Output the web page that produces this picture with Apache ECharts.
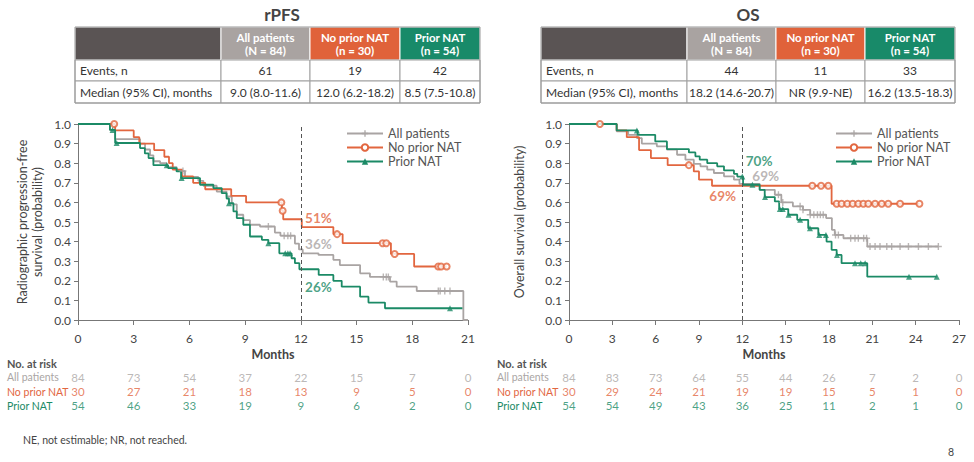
<!DOCTYPE html>
<html>
<head>
<meta charset="utf-8">
<script src="https://cdn.jsdelivr.net/npm/echarts@6/dist/echarts.min.js"></script>
<style>
html, body { margin: 0; padding: 0; background: #fff; }
#main { width: 974px; height: 462px; }
</style>
</head>
<body>
<div id="main"></div>
<script>
// groups
var groups = ['All patients', 'No prior NAT', 'Prior NAT'];
var colors = ['#a9a4a3', '#e2663f', '#1b8a66'];

// rPFS curves: [month, survival after event]
var pfsAll = [[0,1],[1.72,0.97],[2.0,0.923],[3.34,0.9],[3.61,0.87],[3.88,0.84],[4.06,0.81],[4.42,0.8],[4.78,0.78],[5.31,0.76],[5.76,0.73],[6.48,0.71],[6.75,0.685],[7.47,0.655],[8.0,0.63],[8.28,0.59],[8.55,0.537],[8.9,0.51],[9.26,0.486],[9.8,0.477],[10.6,0.446],[10.9,0.43],[11.68,0.39],[11.9,0.36],[12.1,0.34],[12.95,0.332],[13.75,0.307],[14.1,0.28],[15.19,0.238],[15.72,0.22],[16.8,0.196],[17.16,0.17],[18.24,0.148],[20.75,0],[21.0,0]];
var pfsAllCens = [5.65, 10.25, 11.1, 11.3, 11.45, 16.44, 16.6, 16.71, 19.4, 19.5, 19.75, 20.03];
var pfsNo = [[0,1],[2.0,0.967],[3.0,0.933],[3.3,0.9],[4.1,0.867],[4.65,0.833],[4.9,0.8],[5.1,0.767],[5.6,0.733],[6.2,0.7],[6.85,0.667],[8.25,0.633],[9.05,0.6],[10.98,0.557],[11.05,0.514],[12.05,0.474],[13.75,0.438],[14.25,0.392],[16.85,0.337],[18.1,0.273],[19.85,0.273]];
var pfsNoCens = [1.95, 10.95, 11.02, 13.95, 16.4, 16.6, 17.05, 19.4, 19.55, 19.85];
var pfsPrior = [[0,1],[1.72,0.97],[2.0,0.903],[3.34,0.877],[3.6,0.85],[3.8,0.826],[4.06,0.79],[4.85,0.775],[5.31,0.758],[5.55,0.724],[6.57,0.69],[7.29,0.673],[7.74,0.647],[8.0,0.62],[8.13,0.596],[8.37,0.554],[8.55,0.52],[8.9,0.486],[9.26,0.426],[9.9,0.409],[10.25,0.392],[10.84,0.34],[11.5,0.315],[11.68,0.29],[11.92,0.259],[12.96,0.23],[13.75,0.2],[14.2,0.17],[15.19,0.119],[15.64,0.089],[16.53,0.06],[20.7,0.06]];
var pfsPriorCens = [1.86, 2.08, 4.78, 5.58, 8.13, 10.25, 11.16, 11.3, 11.42, 20.03];

// OS curves
var osAll = [[0,1],[3.3,0.963],[4.1,0.945],[4.7,0.928],[5.04,0.9],[6.08,0.886],[6.78,0.869],[7.48,0.843],[8.06,0.818],[8.64,0.797],[9.1,0.784],[9.57,0.767],[10.03,0.75],[10.73,0.733],[11.42,0.716],[11.8,0.695],[13.2,0.664],[14.25,0.639],[14.7,0.6],[15.5,0.58],[16.2,0.562],[16.7,0.537],[17.8,0.52],[18.2,0.46],[18.4,0.434],[19.0,0.417],[20.65,0.375],[25.57,0.375]];
var osAllCens = [14.5, 14.8, 16.0, 16.2, 16.7, 16.95, 17.2, 17.4, 17.6, 18.45, 18.65, 19.5, 19.8, 20.03, 20.4, 20.6, 20.84, 21.19, 21.53, 22.0, 22.34, 22.92, 23.5, 24.19, 24.88, 25.57];
var osNo = [[0,1],[3.3,0.967],[4.0,0.933],[4.85,0.867],[5.67,0.826],[6.83,0.79],[8.64,0.758],[9.0,0.716],[9.9,0.685],[18.18,0.593],[24.26,0.593]];
var osNoCens = [2.14, 8.3, 16.84, 17.45, 17.95, 18.53, 18.87, 19.27, 19.64, 20.03, 20.38, 20.72, 21.19, 21.65, 22.1, 22.92, 24.26];
var osPrior = [[0,1],[3.3,0.967],[4.75,0.945],[5.97,0.911],[6.78,0.872],[8.3,0.855],[8.75,0.835],[9.05,0.818],[9.57,0.8],[10.26,0.784],[10.73,0.763],[11.42,0.746],[11.65,0.732],[12.05,0.69],[13.2,0.664],[13.55,0.627],[14.25,0.605],[14.55,0.566],[15.18,0.537],[15.8,0.511],[16.56,0.468],[17.26,0.434],[17.83,0.4],[18.18,0.358],[18.53,0.332],[18.87,0.29],[20.65,0.221],[25.46,0.221]];
var osPriorCens = [4.7, 12.0, 12.7, 13.57, 14.6, 14.8, 15.2, 16.0, 16.68, 17.33, 17.79, 18.55, 19.8, 20.2, 20.5, 23.54, 25.46];

// 12-month rates
var pfsPct = ['36%', '51%', '26%'];
var osPct = ['69%', '69%', '70%'];

// numbers at risk
var pfsRiskTimes = [0, 3, 6, 9, 12, 15, 18, 21];
var pfsRisk = [[84, 73, 54, 37, 22, 15, 7, 0], [30, 27, 21, 18, 13, 9, 5, 0], [54, 46, 33, 19, 9, 6, 2, 0]];
var osRiskTimes = [0, 3, 6, 9, 12, 15, 18, 21, 24, 27];
var osRisk = [[84, 83, 73, 64, 55, 44, 26, 7, 2, 0], [30, 29, 24, 21, 19, 19, 15, 5, 1, 0], [54, 54, 49, 43, 36, 25, 11, 2, 1, 0]];

// summary tables
var tableHeader = [['All patients', '(N = 84)'], ['No prior NAT', '(n = 30)'], ['Prior NAT', '(n = 54)']];
var pfsTable = [['Events, n', '61', '19', '42'], ['Median (95% CI), months', '9.0 (8.0-11.6)', '12.0 (6.2-18.2)', '8.5 (7.5-10.8)']];
var osTable = [['Events, n', '44', '11', '33'], ['Median (95% CI), months', '18.2 (14.6-20.7)', 'NR (9.9-NE)', '16.2 (13.5-18.3)']];

var FONT = 'Lato, sans-serif';
var plusPath = 'path://M4,0H6V4H10V6H6V10H4V6H0V4H4Z';
var symbols = [plusPath, 'emptyCircle', 'triangle'];
var riskColors = ['#aaa6a5', '#e2663f', '#1b8a66'];

function survAt(steps, t) {
    var s = steps[0][1];
    for (var i = 0; i < steps.length; i++) {
        if (steps[i][0] <= t) s = steps[i][1];
    }
    return s;
}

function tableGraphic(cols, rows, body) {
    var els = [];
    var fills = ['#5a5454', '#a9a3a1', '#e0623a', '#188a69'];
    for (var c = 0; c < 4; c++) {
        var w = cols[c + 1] - cols[c];
        els.push({type: 'rect', shape: {x: cols[c], y: rows[0], width: w, height: rows[1] - rows[0]},
            style: {fill: fills[c], stroke: '#ffffff', lineWidth: 1}});
        if (c > 0) {
            for (var k = 0; k < 2; k++) {
                els.push({type: 'text', x: cols[c] + w / 2, y: rows[0] + 10 + k * 13,
                    style: {text: tableHeader[c - 1][k], fill: '#fff', fontSize: 11.5, fontWeight: 'bold', fontFamily: FONT,
                        align: 'center', verticalAlign: 'middle'}});
            }
        }
        for (var r = 0; r < 2; r++) {
            els.push({type: 'rect', shape: {x: cols[c], y: rows[r + 1], width: w, height: rows[r + 2] - rows[r + 1]},
                style: {fill: '#fff', stroke: '#a0a0a0', lineWidth: 1}});
            els.push({type: 'text', x: c == 0 ? cols[c] + 5 : cols[c] + w / 2, y: (rows[r + 1] + rows[r + 2]) / 2,
                style: {text: body[r][c], fill: '#333', fontSize: 12, fontFamily: FONT,
                    align: c == 0 ? 'left' : 'center', verticalAlign: 'middle'}});
        }
    }
    els.push({type: 'rect', shape: {x: cols[0], y: rows[0], width: cols[4] - cols[0], height: rows[3] - rows[0]},
        style: {fill: 'none', stroke: '#999', lineWidth: 1}});
    return els;
}

// row labels of the risk tables
function riskLabels(x) {
    var els = [{type: 'text', x: x, y: 363, style: {text: 'No. at risk', fill: '#555', fontSize: 11, fontWeight: 'bold', fontFamily: FONT, verticalAlign: 'middle'}}];
    for (var g = 0; g < 3; g++) {
        els.push({type: 'text', x: x, y: 377.2 + g * 14.3,
            style: {text: groups[g], fill: riskColors[g], fontSize: 10.5, fontFamily: FONT, verticalAlign: 'middle'}});
    }
    return els;
}

function kmSeries(idx, curves, cens) {
    var out = [];
    for (var g = 0; g < 3; g++) {
        var s = {
            name: groups[g], type: 'line', step: 'end', xAxisIndex: idx, yAxisIndex: idx,
            data: curves[g], symbol: symbols[g], showSymbol: false, symbolSize: 7,
            lineStyle: {color: colors[g], width: 1.8}, itemStyle: {color: colors[g]},
            silent: true, z: 2 + g
        };
        if (g == 0) {
            s.markLine = {silent: true, symbol: 'none', label: {show: false},
                lineStyle: {type: [4, 3], color: '#555', width: 1}, data: [{xAxis: 12}]};
        }
        out.push(s);
        out.push({
            name: groups[g] + ' censored', type: 'scatter', xAxisIndex: idx, yAxisIndex: idx,
            data: cens[g].map(function (t) { return [t, survAt(curves[g], t)]; }),
            symbol: symbols[g], symbolSize: g == 0 ? 7 : 6,
            itemStyle: {color: colors[g], borderColor: colors[g], borderWidth: g == 1 ? 1.2 : 0},
            silent: true, z: 5 + g
        });
    }
    return out;
}

function riskSeries(idx, times, risk) {
    var out = [];
    for (var g = 0; g < 3; g++) {
        out.push({
            name: groups[g] + ' at risk', type: 'scatter', xAxisIndex: idx, yAxisIndex: idx,
            data: times.map(function (t, j) { return [t, groups[g], risk[g][j]]; }),
            symbolSize: 1, itemStyle: {color: 'transparent'}, silent: true,
            label: {show: true, position: 'inside', color: riskColors[g], fontSize: 11.5, fontFamily: FONT,
                formatter: function (p) { return p.value[2]; }}
        });
    }
    return out;
}

function pctSeries(idx, items) {
    return {
        name: 'pct' + idx, type: 'scatter', xAxisIndex: idx, yAxisIndex: idx, symbolSize: 1,
        itemStyle: {color: 'transparent'}, silent: true, z: 10,
        data: items.map(function (it) {
            return {value: it.pos, label: {show: true, position: it.side, distance: 0, formatter: it.text,
                color: it.color, fontSize: 13.5, fontWeight: 'bold', fontFamily: FONT}};
        })
    };
}

function mainX(idx, max) {
    return {
        type: 'value', gridIndex: idx, min: 0, max: max, interval: 3,
        name: 'Months', nameLocation: 'middle', nameGap: 28,
        nameTextStyle: {fontSize: 12.5, fontWeight: 'bold', color: '#444', fontFamily: FONT},
        axisLine: {lineStyle: {color: '#777', width: 1}},
        axisTick: {length: 5, lineStyle: {color: '#777'}},
        axisLabel: {margin: 12, fontSize: 12, color: '#444', fontFamily: FONT},
        splitLine: {show: false}
    };
}

function mainY(idx, name, gap) {
    return {
        type: 'value', gridIndex: idx, min: 0, max: 1, interval: 0.1,
        name: name, nameLocation: 'middle', nameGap: gap, nameRotate: 90,
        nameTextStyle: {fontSize: 12.5, color: '#444', fontFamily: FONT, lineHeight: 15},
        axisLine: {show: true, lineStyle: {color: '#777', width: 1}},
        axisTick: {show: true, length: 4, lineStyle: {color: '#777'}},
        axisLabel: {margin: 7, fontSize: 12, color: '#444', fontFamily: FONT,
            formatter: function (v) { return v.toFixed(1); }},
        splitLine: {show: false}
    };
}

function riskY(idx) {
    return {
        type: 'category', gridIndex: idx, inverse: true, data: groups,
        axisLine: {show: false}, axisTick: {show: false}, axisLabel: {show: false}
    };
}

var legendBase = {
    orient: 'vertical', data: groups, itemWidth: 36, itemHeight: 8, itemGap: 1,
    selectedMode: false, textStyle: {fontSize: 12.5, color: '#555', fontFamily: FONT, lineHeight: 13}
};

var chart = echarts.init(document.getElementById('main'), null, {renderer: 'svg'});

var series = [].concat(
    kmSeries(0, [pfsAll, pfsNo, pfsPrior], [pfsAllCens, pfsNoCens, pfsPriorCens]),
    kmSeries(1, [osAll, osNo, osPrior], [osAllCens, osNoCens, osPriorCens]),
    riskSeries(2, pfsRiskTimes, pfsRisk),
    riskSeries(3, osRiskTimes, osRisk),
    [pctSeries(0, [
        {pos: [12.2, 0.52], side: 'right', text: pfsPct[1], color: colors[1]},
        {pos: [12.2, 0.39], side: 'right', text: pfsPct[0], color: colors[0]},
        {pos: [12.2, 0.17], side: 'right', text: pfsPct[2], color: colors[2]}
    ]), pctSeries(1, [
        {pos: [12.2, 0.81], side: 'right', text: osPct[2], color: colors[2]},
        {pos: [12.66, 0.736], side: 'right', text: osPct[0], color: colors[0]},
        {pos: [11.6, 0.634], side: 'left', text: osPct[1], color: colors[1]}
    ])]
);

var option = {
    animation: false,
    backgroundColor: '#fff',
    textStyle: {fontFamily: FONT},
    grid: [
        {left: 78, top: 124, width: 390, height: 196},
        {left: 569, top: 124, width: 390, height: 196},
        {left: 78, top: 370, width: 390, height: 43},
        {left: 569, top: 370, width: 390, height: 43}
    ],
    xAxis: [
        mainX(0, 21), mainX(1, 27),
        {type: 'value', gridIndex: 2, min: 0, max: 21, show: false},
        {type: 'value', gridIndex: 3, min: 0, max: 27, show: false}
    ],
    yAxis: [
        mainY(0, 'Radiographic progression-free\nsurvival (probability)', 33),
        mainY(1, 'Overall survival (probability)', 42),
        riskY(2), riskY(3)
    ],
    legend: [
        Object.assign({left: 341, top: 122}, legendBase),
        Object.assign({left: 830, top: 122}, legendBase)
    ],
    graphic: [].concat(
        [{type: 'text', x: 282, y: 14, style: {text: 'rPFS', fill: '#444', fontSize: 17, fontWeight: 'bold', fontFamily: FONT, align: 'center', verticalAlign: 'middle'}},
         {type: 'text', x: 748, y: 14, style: {text: 'OS', fill: '#444', fontSize: 17, fontWeight: 'bold', fontFamily: FONT, align: 'center', verticalAlign: 'middle'}}],
        tableGraphic([75, 221, 310, 400, 480], [27, 60, 81, 103], pfsTable),
        tableGraphic([541, 687, 776, 865, 955], [27, 60, 81, 103], osTable),
        riskLabels(7),
        riskLabels(497),
        [{type: 'text', x: 23, y: 440, style: {text: 'NE, not estimable; NR, not reached.', fill: '#444', fontSize: 10.5, fontFamily: FONT, verticalAlign: 'middle'}},
         {type: 'text', x: 948, y: 452, style: {text: '8', fill: '#444', fontSize: 10.5, fontFamily: FONT, verticalAlign: 'middle'}}]
    ),
    series: series
};
chart.setOption(option);
</script>
</body>
</html>
